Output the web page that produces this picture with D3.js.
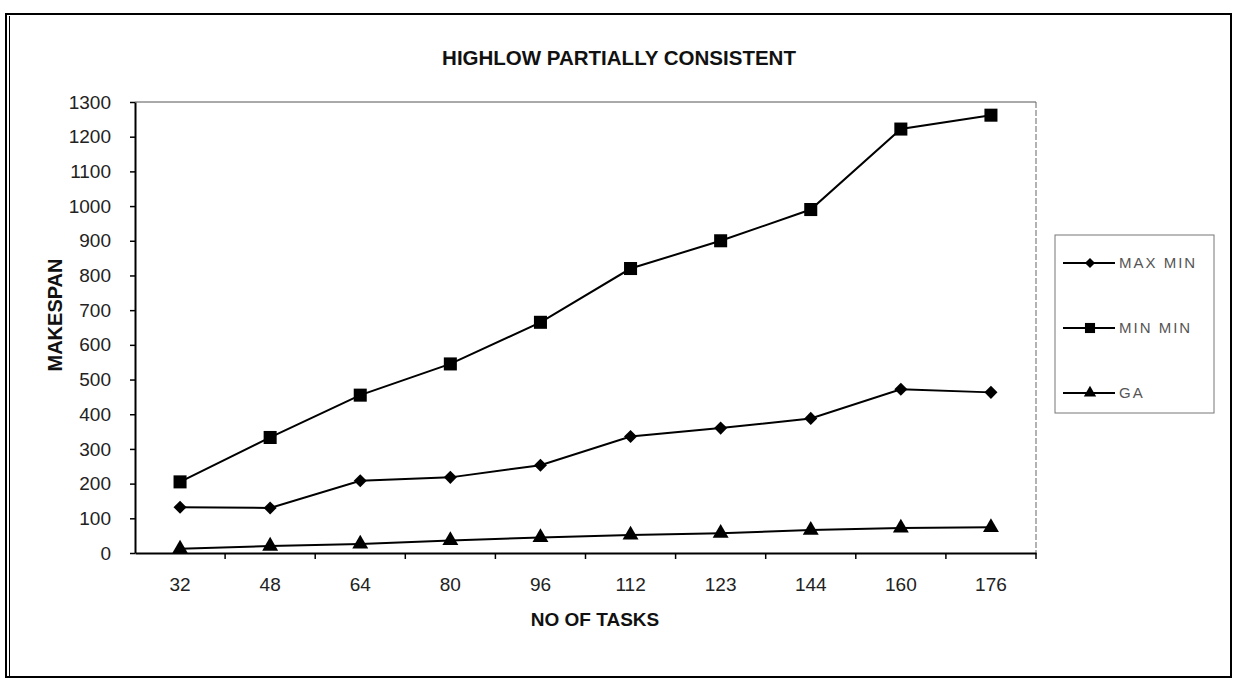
<!DOCTYPE html>
<html>
<head>
<meta charset="utf-8">
<script src="https://cdn.jsdelivr.net/npm/d3@7"></script>
<style>
  html, body { margin: 0; padding: 0; background: #fff; }
  svg { display: block; }
  text { font-family: "Liberation Sans", Arial, sans-serif; }
</style>
</head>
<body>
<svg id="chart" width="1238" height="681"></svg>
<script>
const categories = ["32", "48", "64", "80", "96", "112", "123", "144", "160", "176"];
const maxMin = [132, 130, 208, 218, 253, 336, 360, 388, 472, 463];
const minMin = [205, 333, 455, 545, 665, 820, 900, 990, 1222, 1262];
const ga     = [12, 20, 26, 36, 45, 52, 57, 66, 72, 74];
const yTicks = [0, 100, 200, 300, 400, 500, 600, 700, 800, 900, 1000, 1100, 1200, 1300];
const seriesNames = ["MAX MIN", "MIN MIN", "GA"];

const series = [
  { name: seriesNames[0], values: maxMin, symbol: d3.symbolSquare, size: 85, rotate: 45 },
  { name: seriesNames[1], values: minMin, symbol: d3.symbolSquare, size: 170, rotate: 0 },
  { name: seriesNames[2], values: ga, symbol: d3.symbolTriangle, size: 110, rotate: 0 }
];

const svg = d3.select("#chart");
const plot = { left: 135, right: 1036, top: 102, bottom: 553 };

// outer frame
svg.append("rect").attr("x", 6).attr("y", 14).attr("width", 1225).attr("height", 663)
  .attr("fill", "none").attr("stroke", "#000").attr("stroke-width", 2);
svg.append("line").attr("x1", 9.5).attr("x2", 9.5).attr("y1", 16).attr("y2", 676)
  .attr("stroke", "#000").attr("stroke-width", 1);

const x = d3.scaleBand().domain(categories).range([plot.left, plot.right]);
const y = d3.scaleLinear().domain([0, 1300]).range([plot.bottom, plot.top]);

// plot area border (top + right)
svg.append("line").attr("x1", plot.left).attr("x2", plot.right).attr("y1", plot.top).attr("y2", plot.top)
  .attr("stroke", "#555").attr("stroke-width", 1);
svg.append("line").attr("x1", plot.right).attr("x2", plot.right).attr("y1", plot.top).attr("y2", plot.bottom)
  .attr("stroke", "#666").attr("stroke-width", 1).attr("stroke-dasharray", "6,2");

// title
svg.append("text").attr("x", 619).attr("y", 65).attr("text-anchor", "middle")
  .attr("font-size", 20.5).attr("font-weight", "bold").attr("fill", "#111")
  .text("HIGHLOW PARTIALLY CONSISTENT");

// y axis
const yAxis = svg.append("g").attr("transform", `translate(${plot.left},0)`)
  .call(d3.axisLeft(y).tickValues(yTicks).tickFormat(d3.format("d")).tickSize(5).tickPadding(19).tickSizeOuter(0));
yAxis.select(".domain").attr("stroke", "#000").attr("stroke-width", 2);
yAxis.selectAll(".tick line").attr("stroke", "#000").attr("stroke-width", 1.5);
yAxis.selectAll(".tick text").attr("font-size", 19).attr("fill", "#222")
  .attr("font-family", "Liberation Sans, Arial, sans-serif");

// x axis
const xAxis = svg.append("g").attr("transform", `translate(0,${plot.bottom})`)
  .call(d3.axisBottom(x).tickSize(0).tickPadding(25).tickSizeOuter(0));
xAxis.select(".domain").attr("stroke", "#000").attr("stroke-width", 2);
xAxis.selectAll(".tick text").attr("font-size", 19).attr("fill", "#222")
  .attr("font-family", "Liberation Sans, Arial, sans-serif");
// category boundary ticks
svg.append("g").selectAll("line").data(categories)
  .join("line")
  .attr("x1", d => x(d) + x.bandwidth())
  .attr("x2", d => x(d) + x.bandwidth())
  .attr("y1", plot.bottom).attr("y2", plot.bottom + 6)
  .attr("stroke", "#000").attr("stroke-width", 1.5);

// axis titles
svg.append("text").attr("transform", "translate(62,315) rotate(-90)")
  .attr("text-anchor", "middle").attr("font-size", 20).attr("font-weight", "bold").attr("fill", "#111")
  .text("MAKESPAN");
svg.append("text").attr("x", 595).attr("y", 626).attr("text-anchor", "middle")
  .attr("font-size", 19).attr("font-weight", "bold").attr("fill", "#111")
  .text("NO OF TASKS");

// lines + markers
const line = d3.line().x((d, i) => x(categories[i]) + x.bandwidth() / 2).y(d => y(d));
series.forEach(s => {
  svg.append("path").datum(s.values).attr("d", line)
    .attr("fill", "none").attr("stroke", "#000").attr("stroke-width", 2);
  svg.append("g").selectAll("path").data(s.values).join("path")
    .attr("transform", (d, i) => `translate(${x(categories[i]) + x.bandwidth() / 2},${y(d)}) rotate(${s.rotate})`)
    .attr("d", d3.symbol().type(s.symbol).size(s.size))
    .attr("fill", "#000");
});

// legend
const lg = svg.append("g");
lg.append("rect").attr("x", 1055).attr("y", 235).attr("width", 159).attr("height", 178)
  .attr("fill", "#fff").attr("stroke", "#777").attr("stroke-width", 1);
const legendY = [263, 328, 393];
series.forEach((s, i) => {
  lg.append("line").attr("x1", 1063).attr("x2", 1115).attr("y1", legendY[i]).attr("y2", legendY[i])
    .attr("stroke", "#000").attr("stroke-width", 2);
  lg.append("path").attr("transform", `translate(1090,${legendY[i]}) rotate(${s.rotate})`)
    .attr("d", d3.symbol().type(s.symbol).size(s.size * 0.6)).attr("fill", "#000");
  lg.append("text").attr("x", 1119).attr("y", legendY[i]).attr("dy", "0.35em")
    .attr("font-size", 15).attr("letter-spacing", 2).attr("fill", "#555")
    .text(s.name);
});
</script>
</body>
</html>
